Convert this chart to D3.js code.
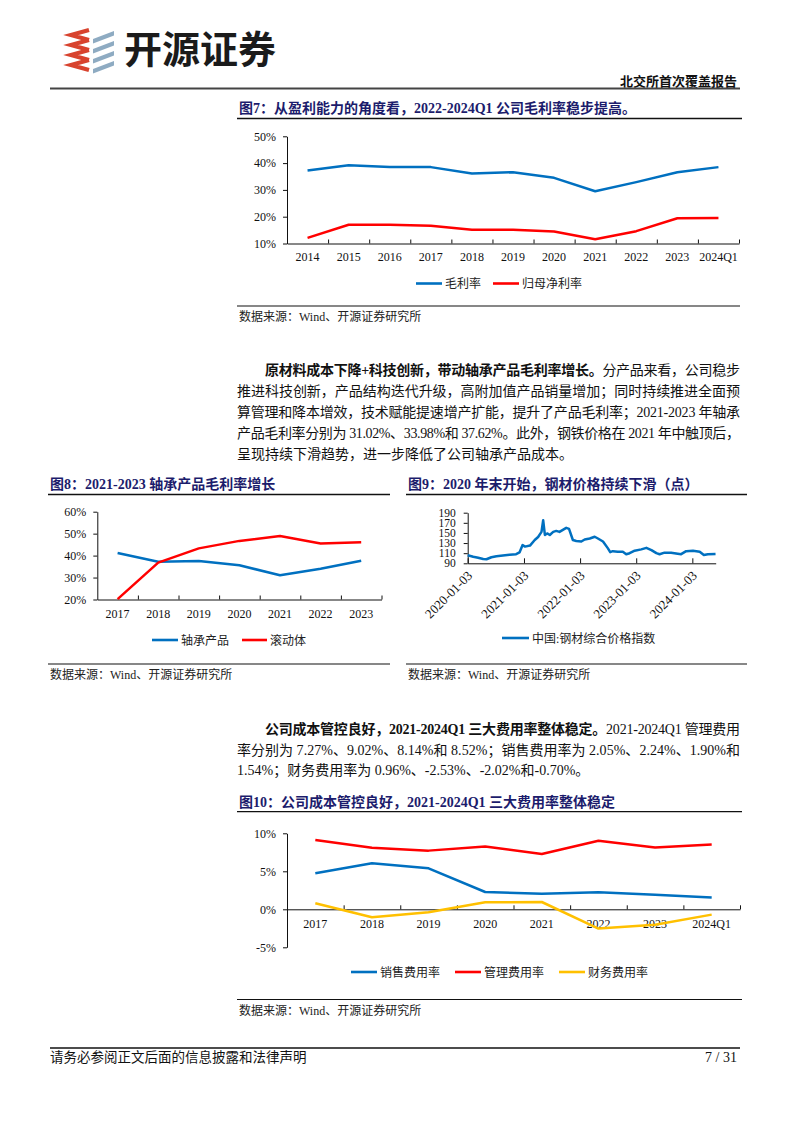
<!DOCTYPE html>
<html><head><meta charset="utf-8">
<script src="https://cdn.jsdelivr.net/npm/d3@7"></script>
<style>
body{margin:0;background:#fff;}
svg{display:block;}
</style></head><body>
<svg id="page" width="794" height="1123"></svg>
<script>
// ---------------- DATA ----------------
const fig7Categories = ["2014","2015","2016","2017","2018","2019","2020","2021","2022","2023","2024Q1"];
const fig7Gross = [37.2,39.2,38.5,38.5,36.1,36.6,34.5,29.5,32.9,36.6,38.5];
const fig7Net = [12.1,17.0,17.0,16.6,15.1,15.1,14.5,11.6,14.6,19.4,19.5];
const fig7YTicks = [10,20,30,40,50];
const fig7Legend = ["毛利率","归母净利率"];

const fig8Categories = ["2017","2018","2019","2020","2021","2022","2023"];
const fig8Bearing = [41.2,37.2,37.5,35.6,31.02,33.98,37.62];
const fig8Rolling = [20.2,36.8,43.3,46.7,48.9,45.5,46.1];
const fig8YTicks = [20,30,40,50,60];
const fig8Legend = ["轴承产品","滚动体"];

const fig9Dates = ["2020-01-03","2020-02-08","2020-03-11","2020-04-13","2020-05-04","2020-06-05","2020-07-08","2020-08-19","2020-10-01","2020-11-13","2020-12-05","2020-12-25",
"2021-01-10","2021-02-11","2021-03-14","2021-04-05","2021-04-27","2021-05-08","2021-05-19","2021-06-03","2021-06-20","2021-07-12","2021-08-01","2021-08-22","2021-09-13","2021-10-05","2021-10-23","2021-11-17","2021-12-09",
"2022-01-11","2022-02-02","2022-03-07","2022-04-08","2022-04-29","2022-06-01","2022-07-02","2022-07-18","2022-08-04","2022-09-05","2022-10-08","2022-10-30","2022-11-21","2022-12-24",
"2023-02-05","2023-03-10","2023-04-12","2023-05-14","2023-06-04","2023-07-06","2023-08-18","2023-09-30","2023-10-22","2023-11-24",
"2024-01-07","2024-02-20","2024-03-18","2024-04-13","2024-06-02"];
const fig9Values = [106,103,101,98.5,98,102,104,105.5,107,108,111.5,126,
123,125,136,142,152,175,146,149,146,152,154,152,156,160,158,136,134,
133,137,139,142.5,139,133,120,112,114,113,113,108,110,115,
117.5,120.5,116,110,108,111,111,109,108,114,
115,113,106.5,108,108.5];
const fig9YTicks = [90,110,130,150,170,190];
const fig9XTicks = ["2020-01-03","2021-01-03","2022-01-03","2023-01-03","2024-01-03"];
const fig9Domain = ["2020-01-03","2024-06-03"];
const fig9Legend = ["中国:钢材综合价格指数"];

const fig10Categories = ["2017","2018","2019","2020","2021","2022","2023","2024Q1"];
const fig10Selling = [4.74,6.05,5.39,2.28,2.05,2.24,1.90,1.54];
const fig10Admin = [9.12,8.11,7.72,8.25,7.27,9.02,8.14,8.52];
const fig10Finance = [0.79,-1.05,-0.39,0.92,0.96,-2.53,-2.02,-0.70];
const fig10YTicks = [-5,0,5,10];
const fig10Legend = ["销售费用率","管理费用率","财务费用率"];

// ---------------- STYLE ----------------
const BLUE="#0070C0", RED="#FF0000", GOLD="#FFC000", NAVY="#1c1c6c";
const MIX='"Liberation Serif","Noto Sans CJK SC",serif';
const SERIF='"Liberation Serif","Times New Roman",serif';
const CJK='"Noto Sans CJK SC",sans-serif';

const svg = d3.select("#page");
svg.append("rect").attr("width",794).attr("height",1123).attr("fill","#fff");

// ---------------- HEADER ----------------
const logo = svg.append("g");
[30,40,50,60].forEach((y,i)=>{
  logo.append("path").attr("d",`M89,${y} L71,${y+5} L89,${y+10}`)
    .attr("fill","none").attr("stroke","#d8432e").attr("stroke-width",4.2);
});
[31,41,51,61].forEach((y,i)=>{
  logo.append("path").attr("d",`M${93},${y+8} L${114},${y} L${114},${y+4.5} L${93},${y+12.5}Z`)
    .attr("fill","#8eabc2");
});
svg.append("text").attr("x",124).attr("y",63).text("开源证券")
  .attr("font-family",CJK).attr("font-weight",700).attr("font-size",38).attr("fill","#1b1b1b");
svg.append("text").attr("x",737).attr("y",86).attr("text-anchor","end").text("北交所首次覆盖报告")
  .attr("font-family",CJK).attr("font-weight",700).attr("font-size",13).attr("fill","#111");
svg.append("line").attr("x1",50).attr("x2",740).attr("y1",88.5).attr("y2",88.5).attr("stroke","#444").attr("stroke-width",2);

// ---------------- HELPERS ----------------
function title(x,y,x2,ly,txt){
  svg.append("text").attr("x",x).attr("y",y).text(txt)
    .attr("font-family",MIX).attr("font-weight",700).attr("font-size",14).attr("fill",NAVY);
  svg.append("line").attr("x1",x-2).attr("x2",x2).attr("y1",ly).attr("y2",ly).attr("stroke","#111").attr("stroke-width",1.3);
}
function source(x,y,x2,ly){
  svg.append("line").attr("x1",x-2).attr("x2",x2).attr("y1",ly).attr("y2",ly).attr("stroke","#111").attr("stroke-width",1.2);
  svg.append("text").attr("x",x).attr("y",y).text("数据来源：Wind、开源证券研究所")
    .attr("font-family",MIX).attr("font-size",12).attr("fill","#222");
}
function legend(items,y){
  items.forEach(it=>{
    svg.append("line").attr("x1",it.x1).attr("x2",it.x2).attr("y1",y).attr("y2",y)
      .attr("stroke",it.color).attr("stroke-width",2.6);
    svg.append("text").attr("x",it.x2+3).attr("y",y+4.5).text(it.label)
      .attr("font-family",MIX).attr("font-size",12).attr("fill","#222");
  });
}
function styleAxis(sel,fs){
  sel.attr("font-family",SERIF).attr("font-size",fs);
  sel.selectAll("text").attr("fill","#111");
  sel.selectAll("path,line").attr("stroke","#111");
}
function catChart(o){
  const g = svg.append("g");
  const x = d3.scaleBand().domain(o.cats).range([o.x0,o.x1]);
  const xb = d3.scaleLinear().domain([0,o.cats.length]).range([o.x0,o.x1]);
  const y = d3.scaleLinear().domain(o.yDomain).range([o.yBot,o.yTop]);
  const ya = g.append("g").attr("transform",`translate(${o.x0},0)`)
    .call(d3.axisLeft(y).tickValues(o.yTicks).tickFormat(d=>d+"%").tickSize(4).tickPadding(7).tickSizeOuter(0));
  styleAxis(ya,12);
  const ay = y(o.axisAt);
  const xt = g.append("g").attr("transform",`translate(0,${ay})`)
    .call(d3.axisBottom(xb).tickValues(d3.range(1,o.cats.length+1)).tickSize(-4).tickFormat("").tickSizeOuter(0));
  styleAxis(xt,12);
  const xl = g.append("g").attr("transform",`translate(0,${ay})`)
    .call(d3.axisBottom(x).tickSize(0).tickPadding(o.labelPad));
  xl.select(".domain").remove();
  styleAxis(xl,12);
  const line = d3.line().x((d,i)=>x(o.cats[i])+x.bandwidth()/2).y(d=>y(d));
  o.series.forEach(s=>{
    g.append("path").datum(s.vals).attr("d",line).attr("fill","none")
      .attr("stroke",s.color).attr("stroke-width",2.5).attr("stroke-linejoin","round");
  });
}
function para(lines,lh,y0,left,right){
  lines.forEach((ln,i)=>{
    const xs = ln.indent ? left+28 : left;
    const t = svg.append("text").attr("x",xs).attr("y",y0+i*lh)
      .attr("font-family",MIX).attr("font-size",14).attr("fill","#111");
    if(ln.justify) t.attr("textLength",right-xs).attr("lengthAdjust","spacing");
    ln.segs.forEach(s=>{
      t.append("tspan").text(s[0]).attr("font-weight",s[1]?700:400);
    });
  });
}

// ---------------- FIG 7 ----------------
title(239,113,742,118.5,"图7：从盈利能力的角度看，2022-2024Q1 公司毛利率稳步提高。");
catChart({cats:fig7Categories,series:[{vals:fig7Gross,color:BLUE},{vals:fig7Net,color:RED}],
  x0:287,x1:739,yTop:136.3,yBot:243.5,yDomain:[10,50],yTicks:fig7YTicks,axisAt:10,labelPad:9});
legend([{x1:416,x2:442,label:fig7Legend[0],color:BLUE},{x1:493,x2:519,label:fig7Legend[1],color:RED}],283.5);
source(239,321,740,306);

// ---------------- PARAGRAPH 1 ----------------
para([
  {indent:true,justify:true,segs:[["原材料成本下降+科技创新，带动轴承产品毛利率增长。",1],["分产品来看，公司稳步",0]]},
  {justify:true,segs:[["推进科技创新，产品结构迭代升级，高附加值产品销量增加；同时持续推进全面预",0]]},
  {justify:true,segs:[["算管理和降本增效，技术赋能提速增产扩能，提升了产品毛利率；2021-2023 年轴承",0]]},
  {justify:true,segs:[["产品毛利率分别为 31.02%、33.98%和 37.62%。此外，钢铁价格在 2021 年中触顶后，",0]]},
  {justify:false,segs:[["呈现持续下滑趋势，进一步降低了公司轴承产品成本。",0]]}
],21,375,237,740);

// ---------------- FIG 8 ----------------
title(50,489,390,494.5,"图8：2021-2023 轴承产品毛利率增长");
catChart({cats:fig8Categories,series:[{vals:fig8Bearing,color:BLUE},{vals:fig8Rolling,color:RED}],
  x0:97.3,x1:381.5,yTop:511.7,yBot:599.5,yDomain:[20,60],yTicks:fig8YTicks,axisAt:20,labelPad:10});
legend([{x1:152,x2:178,label:fig8Legend[0],color:BLUE},{x1:242,x2:267,label:fig8Legend[1],color:RED}],640);
source(50,678.5,390,664);

// ---------------- FIG 9 ----------------
title(408,489,747,494.5,"图9：2020 年末开始，钢材价格持续下滑（点）");
(function(){
  const parse = d3.timeParse("%Y-%m-%d");
  const g = svg.append("g");
  const x = d3.scaleTime().domain(fig9Domain.map(parse)).range([467.7,715.7]);
  const y = d3.scaleLinear().domain([90,190]).range([563.3,512.7]);
  const ya = g.append("g").attr("transform","translate(467.7,0)")
    .call(d3.axisLeft(y).tickValues(fig9YTicks).tickSize(4).tickPadding(8).tickSizeOuter(0));
  styleAxis(ya,11.5);
  const xa = g.append("g").attr("transform","translate(0,563.3)")
    .call(d3.axisBottom(x).tickValues(fig9XTicks.map(parse)).tickSize(-5).tickFormat(d3.timeFormat("%Y-%m-%d")).tickSizeOuter(0));
  styleAxis(xa,13);
  xa.selectAll(".tick text").attr("text-anchor","end").attr("dy",null).attr("y",0)
    .attr("transform","translate(5,13) rotate(-45)");
  const line = d3.line().x((d,i)=>x(parse(fig9Dates[i]))).y(d=>y(d));
  g.append("path").datum(fig9Values).attr("d",line).attr("fill","none")
    .attr("stroke",BLUE).attr("stroke-width",2.5).attr("stroke-linejoin","round");
})();
legend([{x1:502,x2:529,label:fig9Legend[0],color:BLUE}],638);
source(408,678.5,747,664);

// ---------------- PARAGRAPH 2 ----------------
para([
  {indent:true,justify:true,segs:[["公司成本管控良好，2021-2024Q1 三大费用率整体稳定。",1],["2021-2024Q1 管理费用",0]]},
  {justify:true,segs:[["率分别为 7.27%、9.02%、8.14%和 8.52%；销售费用率为 2.05%、2.24%、1.90%和",0]]},
  {justify:false,segs:[["1.54%；财务费用率为 0.96%、-2.53%、-2.02%和-0.70%。",0]]}
],20.5,734,237,740);

// ---------------- FIG 10 ----------------
title(239,807,742,811.7,"图10：公司成本管控良好，2021-2024Q1 三大费用率整体稳定");
catChart({cats:fig10Categories,series:[{vals:fig10Selling,color:BLUE},{vals:fig10Admin,color:RED},{vals:fig10Finance,color:GOLD}],
  x0:287,x1:740,yTop:833.3,yBot:947.3,yDomain:[-5,10],yTicks:fig10YTicks,axisAt:0,labelPad:10.5});
legend([{x1:351,x2:377,label:fig10Legend[0],color:BLUE},{x1:455,x2:481,label:fig10Legend[1],color:RED},{x1:559,x2:585,label:fig10Legend[2],color:GOLD}],972);
source(239,1014.5,742,999.5);

// ---------------- FOOTER ----------------
svg.append("line").attr("x1",50).attr("x2",740).attr("y1",1048).attr("y2",1048).attr("stroke","#111").attr("stroke-width",1.5);
svg.append("text").attr("x",50).attr("y",1062).text("请务必参阅正文后面的信息披露和法律声明")
  .attr("font-family",MIX).attr("font-size",13.5).attr("fill","#111");
svg.append("text").attr("x",737).attr("y",1062).attr("text-anchor","end").text("7 / 31")
  .attr("font-family",SERIF).attr("font-size",14).attr("fill","#111");
</script>
</body></html>
